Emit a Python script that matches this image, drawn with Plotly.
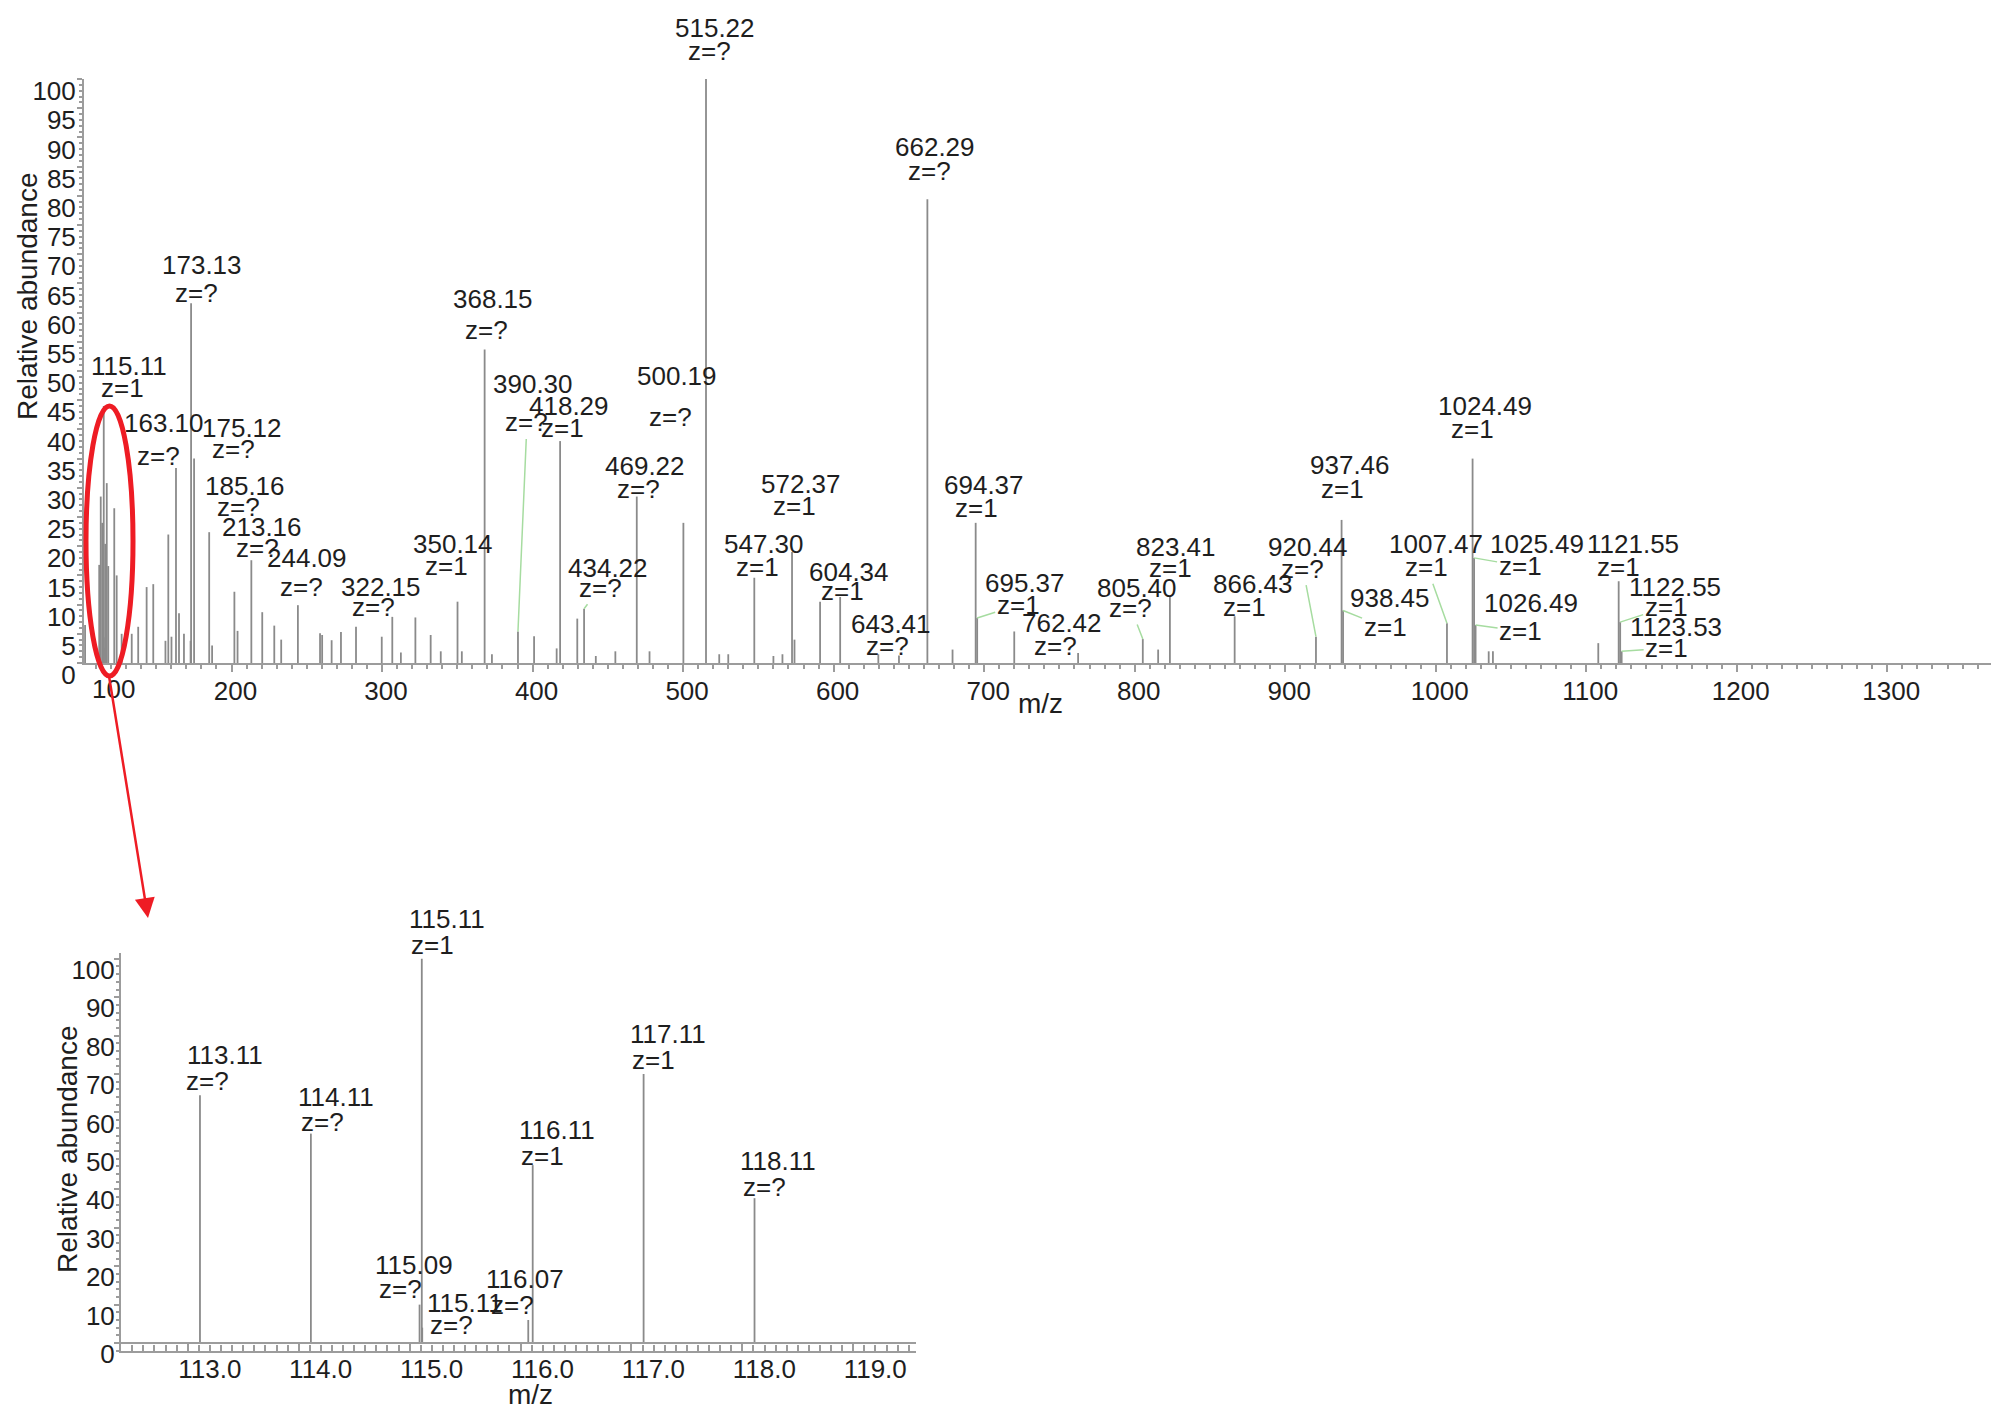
import plotly.graph_objects as go

W, H = 2008, 1416

# ---- full MS/MS spectrum: centroid m/z and relative abundance (%) ----
TOP_MZ = [
    102.70, 112.10, 113.11, 114.11, 115.09, 115.11, 116.07, 116.11, 117.11, 118.11,
    122.09, 123.70, 127.00, 133.70, 138.00, 143.60, 148.00, 156.10, 158.00, 160.10,
    163.10, 165.10, 168.40, 172.80, 173.13, 175.12, 185.16, 187.10, 201.90, 204.00,
    213.16, 220.40, 228.40, 233.00, 244.09, 258.80, 260.20, 266.50, 272.70, 282.70,
    299.80, 306.80, 312.50, 322.15, 332.30, 339.00, 350.14, 353.00, 368.15, 373.00,
    390.30, 401.00, 416.00, 418.29, 429.70, 434.22, 442.00, 455.00, 469.22, 477.70,
    500.19, 515.22, 524.00, 530.00, 547.30, 560.00, 566.00, 572.37, 574.00, 591.00,
    604.34, 629.70, 643.41, 662.29, 679.00, 694.37, 695.37, 720.00, 762.42, 805.40,
    815.60, 823.41, 866.43, 920.44, 937.46, 938.45, 1007.47, 1024.49, 1025.49, 1026.49,
    1035.20, 1038.00, 1108.00, 1121.55, 1122.55, 1123.53,
]
TOP_ABUND = [
    6.5, 16.8, 28.5, 24.0, 4.4, 44.0, 2.6, 20.4, 30.8, 16.6,
    26.5, 15.0, 5.0, 5.0, 6.2, 13.0, 13.5, 3.8, 22.0, 4.5,
    33.4, 8.5, 5.0, 3.8, 61.6, 35.0, 22.4, 3.0, 12.2, 5.5,
    17.6, 8.7, 6.4, 4.0, 9.9, 5.1, 4.8, 3.9, 5.3, 6.2,
    4.5, 7.9, 1.8, 7.8, 4.8, 2.0, 10.5, 2.0, 53.7, 1.5,
    5.4, 4.6, 2.5, 38.0, 7.6, 9.3, 1.2, 2.0, 28.5, 2.0,
    24.0, 100.0, 1.5, 1.5, 14.6, 1.2, 1.5, 19.0, 4.0, 10.5,
    11.3, 1.5, 1.3, 79.4, 2.3, 24.0, 7.7, 5.4, 1.7, 4.1,
    2.3, 11.3, 8.0, 4.5, 24.5, 9.0, 6.8, 35.0, 18.0, 6.5,
    2.0, 2.0, 3.4, 14.0, 7.0, 2.0,
]

# annotated peaks of the full spectrum and their charge states
TOP_LABEL_MZ = [
    115.11, 163.10, 173.13, 175.12, 185.16, 213.16, 244.09, 322.15, 350.14, 368.15,
    390.30, 418.29, 434.22, 469.22, 500.19, 515.22, 547.30, 572.37, 604.34, 643.41,
    662.29, 694.37, 695.37, 762.42, 805.40, 823.41, 866.43, 920.44, 937.46, 938.45,
    1007.47, 1024.49, 1025.49, 1026.49, 1121.55, 1122.55, 1123.53,
]
TOP_LABEL_Z = [
    "z=1", "z=?", "z=?", "z=?", "z=?", "z=?", "z=?", "z=?", "z=1", "z=?",
    "z=?", "z=1", "z=?", "z=?", "z=?", "z=?", "z=1", "z=1", "z=1", "z=?",
    "z=?", "z=1", "z=1", "z=?", "z=?", "z=1", "z=1", "z=?", "z=1", "z=1",
    "z=1", "z=1", "z=1", "z=1", "z=1", "z=1", "z=1",
]

# ---- zoomed region 112.4 - 119.6 m/z ----
ZOOM_MZ = [113.11, 114.11, 115.09, 115.11, 115.114, 116.07, 116.11, 117.11, 118.11]
ZOOM_ABUND = [64.5, 54.5, 10.0, 100.0, 4.0, 6.0, 46.3, 70.0, 37.7]
ZOOM_LABEL_Z = ["z=?", "z=?", "z=?", "z=1", "z=?", "z=?", "z=1", "z=1", "z=?"]

# label placement (pixel offsets from peak top: number line, charge line)
TOP_LABEL_OFFSETS = [
    ((25, -40), (19, -18)), ((-12, -45), (-17, -12)), ((11, -38), (5, -10)),
    ((48, -31), (39, -10)), ((36, -46), (29, -25)), ((11, -33), (6, -12)),
    ((9, -47), (4, -18)), ((-34, -30), (-42, -10)), ((-5, -58), (-11, -36)),
    ((8, -50), (2, -19)), ((15, -247), (9, -209)), ((9, -35), (2, -13)),
    ((24, -41), (16, -21)), ((8, -31), (2, -8)), ((-6, -147), (-13, -106)),
    ((9, -51), (3, -28)), ((10, -34), (3, -11)), ((9, -68), (2, -46)),
    ((9, -25), (2, -6)), ((-8, -31), (-11, -9)), ((8, -52), (2, -28)),
    ((8, -38), (1, -15)), ((48, -35), (41, -13)), ((-16, -30), (-23, -7)),
    ((-6, -51), (-12, -31)), ((6, -50), (1, -29)), ((18, -32), (10, -9)),
    ((-8, -90), (-13, -68)), ((8, -55), (1, -31)), ((47, -12), (42, 17)),
    ((-11, -79), (-20, -56)), ((12, -53), (0, -30)), ((63, -14), (46, 8)),
    ((55, -22), (45, 6)), ((14, -37), (0, -14)), ((55, -35), (46, -15)),
    ((54, -24), (45, -3)),
]
TOP_LEADERS = {390.30, 434.22, 695.37, 805.40, 920.44, 938.45, 1007.47,
               1025.49, 1026.49, 1122.55, 1123.53}
ZOOM_LABEL_OFFSETS = [
    ((25, -40), (8, -14)), ((25, -37), (12, -12)), ((-6, -40), (-19, -16)),
    ((25, -40), (11, -14)), ((43, -25), (29, -3)), ((-3, -41), (-16, -15)),
    ((24, -35), (10, -9)), ((24, -40), (10, -14)), ((23, -37), (10, -11)),
]

FONT = "Liberation Sans, Arial, sans-serif"
TEXT = "#1e1e1e"
STICK = "#8a8a8a"
AXIS = "#9c9c9c"
LEADER = "#a6dca0"
RED = "#ee1c24"
LABEL_FONT = dict(family=FONT, size=26, color=TEXT)


def px(x):
    return x / W


def py(y):
    return 1 - y / H


def sticks(mz, ab):
    xs, ys = [], []
    for m, a in zip(mz, ab):
        xs += [m, m, None]
        ys += [0, a, None]
    return xs, ys


def add_labels(fig, xref, yref, mzs, abund_of, zs, offsets, leaders=()):
    for mz, z, (o1, o2) in zip(mzs, zs, offsets):
        h = abund_of[mz]
        fig.add_annotation(x=mz, y=h, xref=xref, yref=yref, text=f"{mz:.2f}",
                           showarrow=False, xanchor="center", yanchor="middle",
                           xshift=o1[0], yshift=-o1[1], font=LABEL_FONT)
        if mz in leaders:
            fig.add_annotation(x=mz, y=h, xref=xref, yref=yref, text=z,
                               showarrow=True, ax=o2[0], ay=o2[1], arrowhead=0,
                               arrowwidth=1.5, arrowcolor=LEADER, standoff=0,
                               xanchor="center", yanchor="middle", font=LABEL_FONT)
        else:
            fig.add_annotation(x=mz, y=h, xref=xref, yref=yref, text=z,
                               showarrow=False, xanchor="center", yanchor="middle",
                               xshift=o2[0], yshift=-o2[1], font=LABEL_FONT)


fig = go.Figure()

tx, ty = sticks(TOP_MZ, TOP_ABUND)
fig.add_trace(go.Scatter(x=tx, y=ty, mode="lines", xaxis="x", yaxis="y",
                         line=dict(color=STICK, width=1.8), showlegend=False,
                         hoverinfo="skip"))
zx, zy = sticks(ZOOM_MZ, ZOOM_ABUND)
fig.add_trace(go.Scatter(x=zx, y=zy, mode="lines", xaxis="x2", yaxis="y2",
                         line=dict(color=STICK, width=1.8), showlegend=False,
                         hoverinfo="skip"))

add_labels(fig, "x", "y", TOP_LABEL_MZ, dict(zip(TOP_MZ, TOP_ABUND)),
           TOP_LABEL_Z, TOP_LABEL_OFFSETS, TOP_LEADERS)
add_labels(fig, "x2", "y2", ZOOM_MZ, dict(zip(ZOOM_MZ, ZOOM_ABUND)),
           ZOOM_LABEL_Z, ZOOM_LABEL_OFFSETS)

tick_font = dict(family=FONT, size=26, color=TEXT)
top_ticks = list(range(100, 1301, 100))

common = dict(showline=True, linecolor=AXIS, linewidth=2, showgrid=False,
              zeroline=False, automargin=False, tickfont=tick_font,
              tickwidth=1.5, tickcolor=AXIS, tickmode="array")

fig.update_layout(
    width=W, height=H, autosize=False,
    margin=dict(l=0, r=0, t=0, b=0, autoexpand=False),
    paper_bgcolor="white", plot_bgcolor="white",
    font=dict(family=FONT, color=TEXT),
    xaxis=dict(
        common, domain=[px(84), px(1991)], range=[101.99, 1368.9], anchor="y",
        tickvals=top_ticks, ticktext=[""] + [str(t) for t in top_ticks[1:]],
        ticks="outside", ticklen=7,
        minor=dict(dtick=10, ticks="outside", ticklen=4, tickcolor=AXIS),
        ticklabelshift=4, ticklabelstandoff=-3,
    ),
    yaxis=dict(
        common, domain=[py(663), py(79)], range=[0, 100], anchor="x",
        tickvals=list(range(0, 101, 5)),
        ticks="outside", ticklen=5,
        minor=dict(dtick=1, ticks="outside", ticklen=3, tickcolor=AXIS),
        ticklabelshift=12, ticklabelstandoff=-4,
    ),
    xaxis2=dict(
        common, domain=[px(121), px(916)], range=[112.398, 119.566], anchor="y2",
        tickvals=[113, 114, 115, 116, 117, 118, 119],
        ticktext=["113.0", "114.0", "115.0", "116.0", "117.0", "118.0", "119.0"],
        ticks="inside", ticklen=8,
        minor=dict(dtick=0.1, ticks="inside", ticklen=6, tickcolor=AXIS),
        ticklabelshift=22, ticklabelstandoff=-6,
    ),
    yaxis2=dict(
        common, domain=[py(1351), py(953)], range=[-2.07, 101.5], anchor="x2",
        tickvals=list(range(0, 101, 10)),
        ticks="outside", ticklen=5,
        minor=dict(dtick=2, ticks="outside", ticklen=3, tickcolor=AXIS),
        ticklabelshift=11, ticklabelstandoff=-6,
    ),
)

# second baseline of the zoomed axis
fig.add_shape(type="line", xref="x2 domain", yref="y2", x0=0, x1=1, y0=0, y1=0,
              line=dict(color=AXIS, width=2))

# axis titles and the corner "100" tick label
title_font = dict(family=FONT, size=28, color=TEXT)
for x, y, text, angle in [
    (28, 296, "Relative abundance", -90),
    (67, 1149, "Relative abundance", -90),
    (1040, 703, "m/z", 0),
    (530, 1394, "m/z", 0),
]:
    fig.add_annotation(x=px(x), y=py(y), xref="paper", yref="paper", text=text,
                       textangle=angle, showarrow=False, xanchor="center",
                       yanchor="middle", font=title_font)
fig.add_annotation(x=px(113), y=py(689), xref="paper", yref="paper", text="100",
                   showarrow=False, xanchor="center", yanchor="middle", font=tick_font)

# red ellipse around the low-mass cluster and arrow to the zoomed view
fig.add_shape(type="circle", xref="paper", yref="paper",
              x0=px(86), x1=px(133), y0=py(676), y1=py(406),
              line=dict(color=RED, width=5))
fig.add_annotation(x=px(148), y=py(918), xref="paper", yref="paper", text="",
                   showarrow=True, ax=-39, ay=-242, arrowhead=2, arrowsize=1.6,
                   arrowwidth=2.5, arrowcolor=RED, standoff=0)

fig.write_html("out.html", config={"displayModeBar": False},
               post_script="document.body.style.margin='0';")
